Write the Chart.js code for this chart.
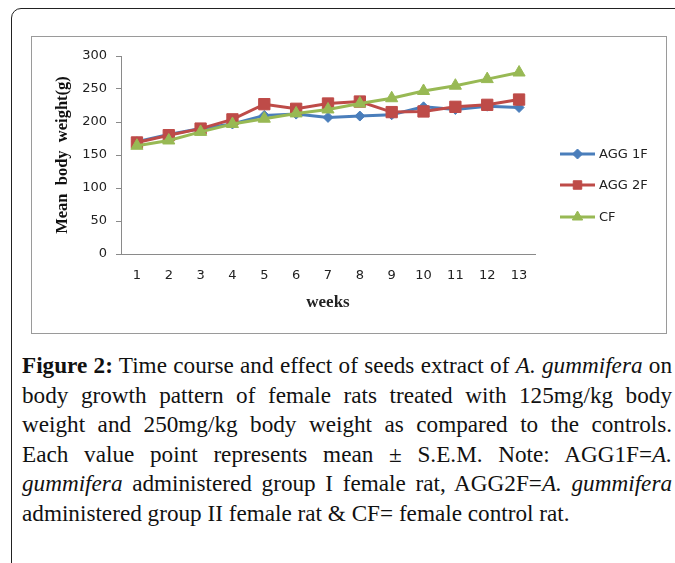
<!DOCTYPE html>
<html>
<head>
<meta charset="utf-8">
<script src="https://cdn.jsdelivr.net/npm/chart.js@4"></script>
<style>
  html, body { margin: 0; padding: 0; background: #fff; overflow: hidden; }
  body { width: 675px; height: 563px; position: relative; }
  #frame { position: absolute; left: 11px; top: 8px; width: 720px; height: 620px;
           border: 1.5px solid #222; border-radius: 10px 0 0 0; box-sizing: border-box; }
  #box { position: absolute; left: 31px; top: 36px; width: 636px; height: 298px;
         border: 1px solid #9a9a9a; box-sizing: border-box; }
  #wrap { position: absolute; left: 31px; top: 36px; width: 635px; height: 297px; }
  #caption { position: absolute; left: 22px; top: 351px; width: 650px;
             font-family: "Liberation Serif", "Times New Roman", serif; font-size: 20px;
             line-height: 29.5px; color: #111; }
  #caption .ln { white-space: nowrap; text-align: justify; text-align-last: justify; }
  #caption .ln.last { text-align-last: left; }
</style>
</head>
<body>
<div id="frame"></div>
<div id="box"></div>
<div id="wrap"><canvas id="c" width="635" height="297"></canvas></div>
<div id="caption">
  <div class="ln"><b>Figure 2:</b> Time course and effect of seeds extract of <i>A. gummifera</i> on</div>
  <div class="ln">body growth pattern of female rats treated with 125mg/kg body</div>
  <div class="ln">weight and 250mg/kg body weight as compared to the controls.</div>
  <div class="ln">Each value point represents mean ± S.E.M. Note: AGG1F=<i>A.</i></div>
  <div class="ln"><i>gummifera</i> administered group I female rat, AGG2F=<i>A. gummifera</i></div>
  <div class="ln last">administered group II female rat &amp; CF= female control rat.</div>
</div>
<script>
// ---- data ----
const weeks = ['1','2','3','4','5','6','7','8','9','10','11','12','13'];
const agg1f = [170, 181, 190, 197, 210, 212, 207, 209, 211, 223, 219, 224, 222];
const agg2f = [169, 180, 190, 204, 227, 220, 228, 231, 215, 216, 223, 226, 234];
const cf    = [164, 172, 185, 197, 205, 213, 219, 228, 236, 247, 255, 265, 275];
const seriesNames = ['AGG 1F', 'AGG 2F', 'CF'];
const yTicks = [0, 50, 100, 150, 200, 250, 300];

const BLUE = '#4A7EBB', RED = '#BE4B48', GREEN = '#98B954';

const legendPlugin = {
  id: 'sideLegend',
  afterDraw(chart) {
    const ctx = chart.ctx;
    const rows = [118, 149, 181];
    const x1 = 529, x2 = 564, tx = 568;
    const sizes = [5, 6, 6];
    chart.data.datasets.forEach((ds, i) => {
      const y = rows[i];
      ctx.save();
      ctx.strokeStyle = ds.borderColor;
      ctx.lineWidth = 3;
      ctx.beginPath(); ctx.moveTo(x1, y); ctx.lineTo(x2, y); ctx.stroke();
      ctx.fillStyle = ds.borderColor;
      ctx.strokeStyle = ds.borderColor;
      ctx.lineWidth = 1;
      Chart.helpers.drawPoint(ctx, {
        pointStyle: ds.pointStyle, radius: sizes[i], borderWidth: 1, rotation: 0
      }, (x1 + x2) / 2, y);
      ctx.fillStyle = '#222';
      ctx.font = '13px "DejaVu Sans", sans-serif';
      ctx.textBaseline = 'middle';
      ctx.textAlign = 'left';
      ctx.fillText(ds.label, tx, y + 1);
      ctx.restore();
    });
  }
};

function mk(label, data, color, style, r, order) {
  return {
    label, data, order,
    borderColor: color, backgroundColor: color,
    pointBackgroundColor: color, pointBorderColor: color,
    borderWidth: 3, pointStyle: style, pointRadius: r, pointBorderWidth: 1,
    tension: 0, fill: false
  };
}

new Chart(document.getElementById('c'), {
  type: 'line',
  data: {
    labels: weeks,
    datasets: [
      mk(seriesNames[0], agg1f, BLUE, 'rectRot', 5, 3),
      mk(seriesNames[1], agg2f, RED, 'rect', 8, 2),
      mk(seriesNames[2], cf, GREEN, 'triangle', 7, 1)
    ]
  },
  options: {
    responsive: false,
    animation: false,
    events: [],
    layout: { padding: { top: 20, right: 131, bottom: 0, left: 0 } },
    plugins: { legend: { display: false }, tooltip: { enabled: false } },
    scales: {
      x: {
        offset: true,
        grid: { display: false, drawTicks: false },
        border: { display: true, color: '#8a8a8a', width: 1 },
        ticks: { color: '#222', padding: 14, font: { family: 'DejaVu Sans', size: 13 }, maxRotation: 0 },
        title: { display: true, text: 'weeks', color: '#222',
                 font: { family: 'Liberation Serif', size: 17, weight: 'bold' },
                 padding: { top: 0, bottom: 20 } },
        afterFit(s) { s.height = 79; }
      },
      y: {
        min: 0, max: 300,
        afterBuildTicks(s) { s.ticks = yTicks.map(v => ({ value: v })); },
        grid: { drawOnChartArea: false, drawTicks: true, tickLength: 5, color: '#8a8a8a' },
        border: { display: true, color: '#8a8a8a', width: 1 },
        ticks: { color: '#222', padding: 9, font: { family: 'DejaVu Sans', size: 13 } },
        title: { display: true, text: 'Mean  body  weight(g)', color: '#111',
                 font: { family: 'Liberation Serif', size: 16.5, weight: 'bold' },
                 padding: { top: 22, bottom: 0 } },
        afterFit(s) { s.width = 90; }
      }
    }
  },
  plugins: [legendPlugin]
});

// size the caption font so the naturally tight lines (1 and 5) just fill the width
(function () {
  const cap = document.getElementById('caption');
  const lines = cap.querySelectorAll('.ln');
  function natural(el) {
    const probe = document.createElement('span');
    probe.style.whiteSpace = 'nowrap';
    probe.innerHTML = el.innerHTML;
    cap.appendChild(probe);
    const w = probe.getBoundingClientRect().width;
    cap.removeChild(probe);
    return w;
  }
  const w1 = natural(lines[0]), w5 = natural(lines[4]);
  const fs = 20 * Math.min(644 / w1, 654 / w5);
  cap.style.fontSize = fs.toFixed(2) + 'px';
})();
</script>
</body>
</html>
